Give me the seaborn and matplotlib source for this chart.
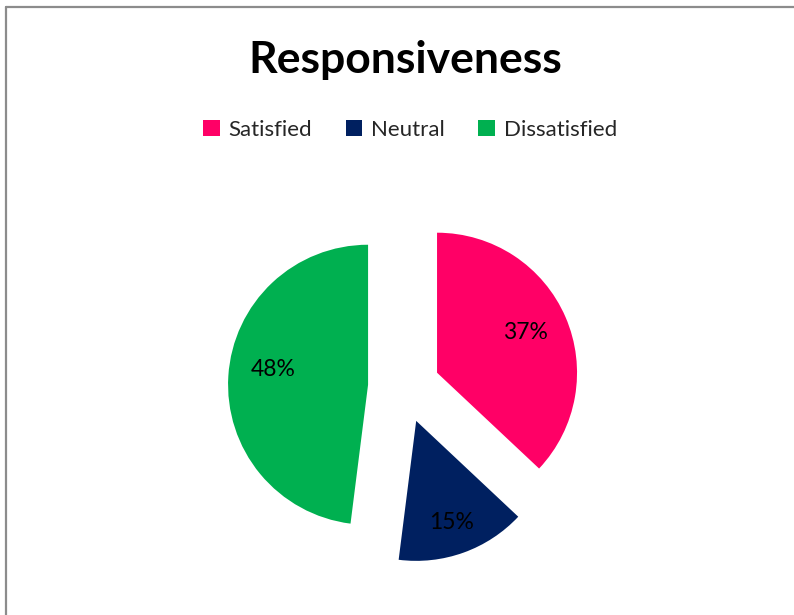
import matplotlib
matplotlib.use("Agg")
import matplotlib.pyplot as plt
import seaborn as sns
from matplotlib.patches import Patch
from matplotlib.lines import Line2D

categories = ["Satisfied", "Neutral", "Dissatisfied"]
shares = [37, 15, 48]
colors = ["#FF0066", "#002060", "#00B050"]
title = "Responsiveness"

sns.set_theme(style="white")
plt.rcParams["font.family"] = ["Lato", "DejaVu Sans"]

W, H = 794, 615
fig = plt.figure(figsize=(W / 100, H / 100), dpi=100)
ax = fig.add_axes([0, 0, 1, 1])

# axes in pixel-like units: pie radius 140, each wedge pulled out by 36
wedges, texts, autotexts = ax.pie(
    shares,
    colors=colors,
    startangle=90,
    counterclock=False,
    explode=[36] * len(shares),
    radius=140,
    center=(404, H - 387),
    autopct=lambda p: f"{p:.0f}%",
    pctdistance=0.71,
    textprops={"fontsize": 16.5, "color": "black"},
    wedgeprops={"linewidth": 0},
)

# small nudges so the percentage labels sit a bit more centrally
nudges = [(-3, 1), (2, -8), (4, 9)]
for t, (dx, dy) in zip(autotexts, nudges):
    x, y = t.get_position()
    t.set_position((x + dx, y + dy))

ax.set_xlim(0, W)
ax.set_ylim(0, H)
ax.set_aspect("equal")
ax.axis("off")

fig.text(405 / W, 1 - 60 / H, title, ha="center", va="center",
         fontsize=32, fontweight="bold", color="black")

handles = [Patch(facecolor=c, edgecolor="none") for c in colors]
fig.legend(handles, categories, loc="center", bbox_to_anchor=(410 / W, 1 - 130 / H),
           ncol=3, frameon=False, fontsize=16, handlelength=0.75, handleheight=0.75,
           handletextpad=0.4, columnspacing=1.5)

# chart area frame
fig.add_artist(Line2D([6 / W, 1.0], [1 - 7 / H, 1 - 7 / H], transform=fig.transFigure,
                      color="#8C8C8C", linewidth=1.6))
fig.add_artist(Line2D([6 / W, 6 / W], [0, 1 - 7 / H], transform=fig.transFigure,
                      color="#8C8C8C", linewidth=1.6))

fig.savefig("out.png", dpi=100)
